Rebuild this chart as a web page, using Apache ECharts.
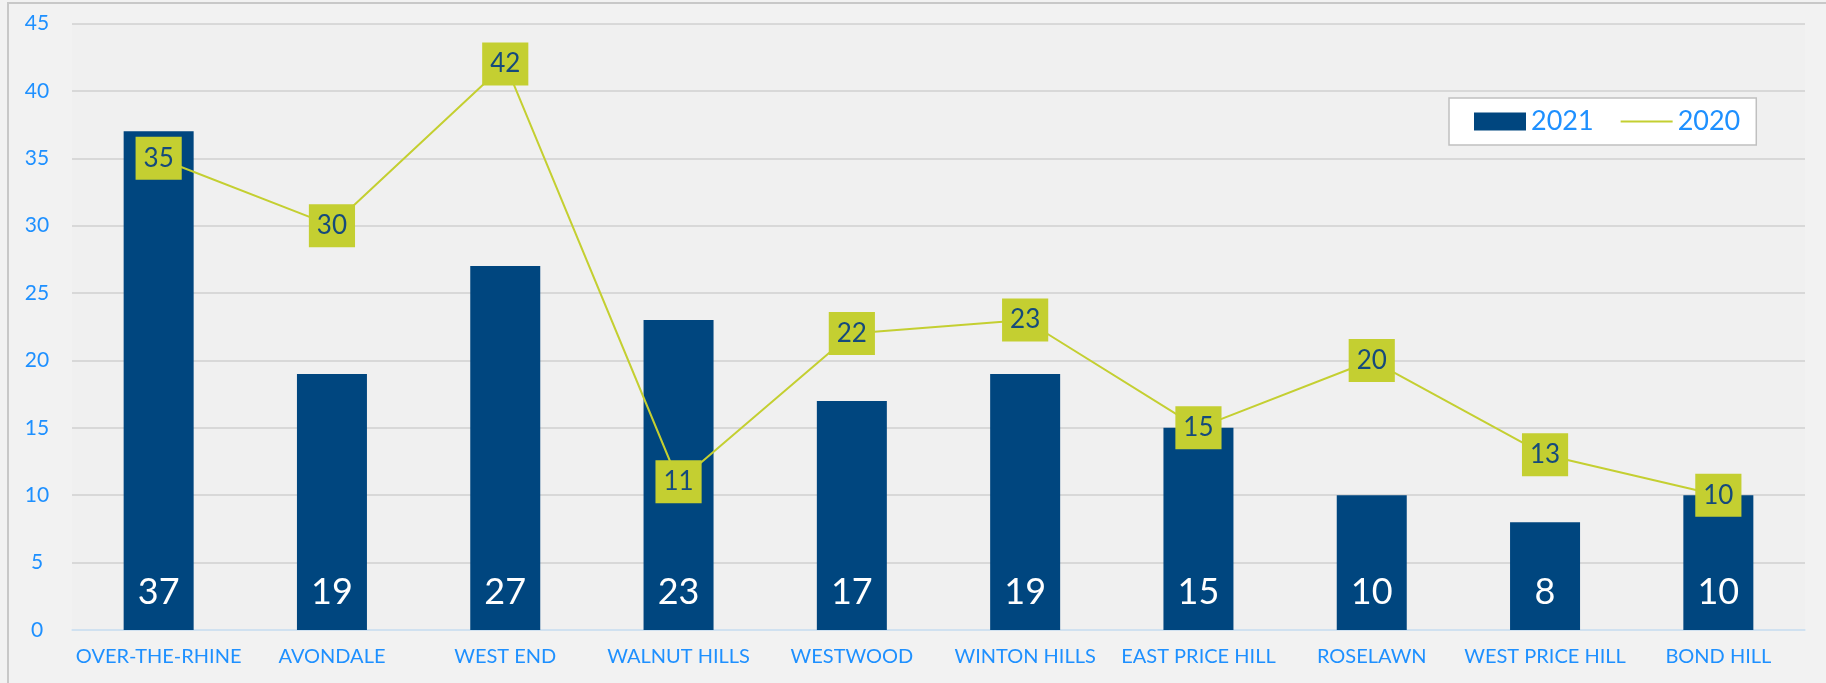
<!DOCTYPE html>
<html>
<head>
<meta charset="utf-8">
<script src="https://cdn.jsdelivr.net/npm/echarts@6/dist/echarts.min.js"></script>
<style>
html,body{margin:0;padding:0;background:#f2f2f2;}
#c{width:1826px;height:683px;}
</style>
</head>
<body>
<div id="c"></div>
<script>
const categories = ['OVER-THE-RHINE','AVONDALE','WEST END','WALNUT HILLS','WESTWOOD','WINTON HILLS','EAST PRICE HILL','ROSELAWN','WEST PRICE HILL','BOND HILL'];
const values2021 = [37,19,27,23,17,19,15,10,8,10];
const values2020 = [35,30,42,11,22,23,15,20,13,10];
const yTicks = {min:0, max:45, interval:5};

const FONT = 'Lato, "Open Sans", sans-serif';
const BLUE_TXT = '#1e90ff';
const BAR = '#00467f';
const LIME = '#c4cf31';

const chart = echarts.init(document.getElementById('c'), null, {renderer:'canvas'});
chart.setOption({
  backgroundColor:'#f2f2f2',
  animation:false,
  textStyle:{fontFamily:FONT},
  graphic:[{
    type:'rect', silent:true, z:-10,
    shape:{x:8, y:3, width:1900, height:800},
    style:{fill:'none', stroke:'#c8c8c8', lineWidth:2}
  }],
  grid:{left:72, right:21, top:23.5, bottom:53, show:true, backgroundColor:'#f0f0f0', borderWidth:0},
  legend:{
    left:1449, top:98,
    padding:[10,16,10,25],
    itemGap:26, itemWidth:52, itemHeight:18,
    backgroundColor:'#ffffff', borderColor:'#c0c0c0', borderWidth:1.5,
    textStyle:{color:BLUE_TXT, fontSize:27, fontFamily:FONT},
    data:[
      {name:'2021', icon:'rect'},
      {name:'2020', itemStyle:{color:'rgba(0,0,0,0)', borderWidth:0}}
    ]
  },
  xAxis:{
    type:'category', data:categories, boundaryGap:true,
    axisLine:{lineStyle:{color:'#cde4f7', width:1.5}},
    axisTick:{show:false},
    axisLabel:{color:BLUE_TXT, fontSize:20, fontFamily:FONT, margin:17, interval:0}
  },
  yAxis:{
    type:'value', min:yTicks.min, max:yTicks.max, interval:yTicks.interval,
    axisLine:{show:false}, axisTick:{show:false},
    splitLine:{lineStyle:{color:'#d0d0d0', width:1.5}},
    axisLabel:{color:BLUE_TXT, fontSize:21, fontFamily:FONT, align:'center', margin:35}
  },
  series:[
    {
      name:'2021', type:'bar', data:values2021, barWidth:70,
      itemStyle:{color:BAR},
      label:{show:true, position:'insideBottom', distance:20, color:'#ffffff', fontSize:36, fontFamily:FONT}
    },
    {
      name:'2020', type:'line', data:values2020,
      symbol:'circle', symbolSize:1, itemStyle:{color:LIME},
      lineStyle:{color:LIME, width:2},
      label:{show:true, position:'inside', color:'#154a7c', fontSize:26, lineHeight:25, fontFamily:FONT,
             backgroundColor:LIME, padding:[9,8,9,8]}
    }
  ]
});
</script>
</body>
</html>
